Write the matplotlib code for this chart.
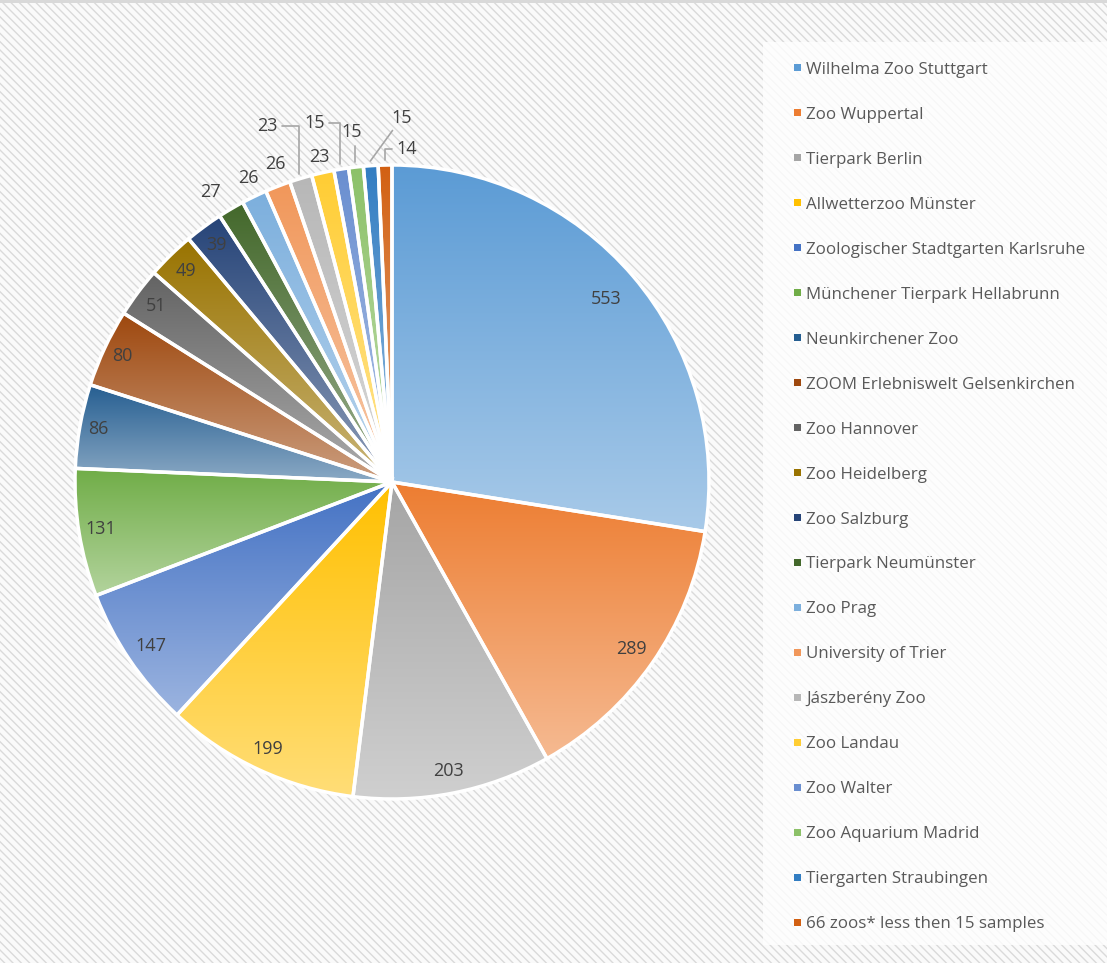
import numpy as np
import matplotlib
matplotlib.use("Agg")
import matplotlib.pyplot as plt
from matplotlib.patches import Rectangle
from matplotlib.colors import to_rgb

labels = ["Wilhelma Zoo Stuttgart", "Zoo Wuppertal", "Tierpark Berlin",
          "Allwetterzoo Münster", "Zoologischer Stadtgarten Karlsruhe",
          "Münchener Tierpark Hellabrunn", "Neunkirchener Zoo",
          "ZOOM Erlebniswelt Gelsenkirchen", "Zoo Hannover", "Zoo Heidelberg",
          "Zoo Salzburg", "Tierpark Neumünster", "Zoo Prag", "University of Trier",
          "Jászberény Zoo", "Zoo Landau", "Zoo Walter", "Zoo Aquarium Madrid",
          "Tiergarten Straubingen", "66 zoos* less then 15 samples"]
values = [553, 289, 203, 199, 147, 131, 86, 80, 51, 49, 39, 27, 26, 26, 23, 23,
          15, 15, 15, 14]
colors = ["#5B9BD5", "#ED7D31", "#A5A5A5", "#FFC000", "#4472C4", "#70AD47",
          "#255E91", "#9E480E", "#636363", "#997300", "#264478", "#43682B",
          "#7CAFDD", "#F1975A", "#B7B7B7", "#FFCD33", "#698ED0", "#8CC168",
          "#327DC2", "#D26012"]

# label placement styling: (radius factor, angle offset deg, leader style)
label_style = [(0.89, 0, None), (0.92, 0, None), (0.93, 0, None), (0.93, 0, None),
               (0.92, 0, None), (0.93, 0, None), (0.94, 0, None), (0.94, 0, None),
               (0.93, 0, None), (0.93, 0, None), (0.93, 0, None),
               (1.08, 1.5, None), (1.06, -0.4, None), (1.07, -1.0, None),
               (1.19, 2.5, "angle"), (1.05, 0, None), (1.16, 3.0, "angle"),
               (1.11, 0, "angle"), (1.15, -5.4, "line"), (1.05, -3.8, "angle")]

W, H, DPI = 1107, 963, 100
fig = plt.figure(figsize=(W / DPI, H / DPI), dpi=DPI)
fig.patch.set_facecolor("white")

# hatched background
plt.rcParams["hatch.linewidth"] = 1.0
bg = Rectangle((0, 0), 1, 1, transform=fig.transFigure, facecolor="#fafafa",
               edgecolor="#dadada", hatch="\\\\\\\\", linewidth=0, zorder=-10)
fig.patches.append(bg)
fig.patches.append(Rectangle((0, 1 - 3 / H), 1, 3 / H, transform=fig.transFigure,
                             facecolor="#d9d9d9", linewidth=0, zorder=-9))

# legend box
lx0, ly0, lx1, ly1 = 763, 42, W, 945
fig.patches.append(Rectangle((lx0 / W, 1 - ly1 / H), (lx1 - lx0) / W, (ly1 - ly0) / H,
                             transform=fig.transFigure, facecolor="white",
                             alpha=0.8, linewidth=0, zorder=-8))

cx, cy, R = 392, 482, 317
ax = fig.add_axes([0, 0, 1, 1])
ax.set_zorder(5)
ax.set_axis_off()
ax.patch.set_alpha(0)
xlim = (-cx / R, (W - cx) / R)
ylim = ((cy - H) / R, cy / R)

wedges, _ = ax.pie(values, startangle=90, counterclock=False, radius=1.0,
                   wedgeprops=dict(linewidth=2.5, edgecolor="white"))

for w, c in zip(wedges, colors):
    base = np.array(to_rgb(c))
    light = base + (1 - base) * 0.47
    t = np.linspace(0, 1, 256)[:, None]
    grad = (base[None, :] * (1 - t) + light[None, :] * t)[:, None, :]
    ext = w.get_path().get_extents()
    im = ax.imshow(grad, extent=[ext.x0, ext.x1, ext.y0, ext.y1], origin="upper",
                   aspect="auto", zorder=1, interpolation="bilinear")
    im.set_clip_path(w)
    w.set_facecolor("none")
    w.set_zorder(2)

ax.set_xlim(*xlim)
ax.set_ylim(*ylim)
ax.set_aspect("auto")

total = sum(values)
start = 90.0
for i, (v, w) in enumerate(zip(values, wedges)):
    span = 360.0 * v / total
    mid = start - span / 2
    start -= span
    rf, doff, leader = label_style[i]
    a = np.deg2rad(mid + doff)
    tx, ty = rf * np.cos(a), rf * np.sin(a)
    txt_kw = dict(fontsize=13, color="#404040", ha="center", va="center",
                  family=["Open Sans", "DejaVu Sans"], zorder=5)
    if leader is None:
        ax.text(tx, ty, str(v), **txt_kw)
    else:
        am = np.deg2rad(mid)
        ex, ey = 1.015 * np.cos(am), 1.015 * np.sin(am)
        cs = "angle,angleA=0,angleB=90,rad=0" if leader == "angle" else "arc3"
        ax.annotate(str(v), xy=(ex, ey), xytext=(tx, ty),
                    arrowprops=dict(arrowstyle="-", color="#a6a6a6", lw=1.2,
                                    connectionstyle=cs, shrinkA=1, shrinkB=0),
                    **txt_kw)

for i, (lab, c) in enumerate(zip(labels, colors)):
    yy = 68 + 44.95 * i
    fig.patches.append(Rectangle(((797 - 3.5) / W, 1 - (yy + 3.5) / H), 7 / W, 7 / H,
                                 transform=fig.transFigure, facecolor=c,
                                 linewidth=0, zorder=3))
    fig.text(806 / W, 1 - (yy + 2) / H, lab, fontsize=12.2, color="#595959", ha="left",
             va="center", family=["Open Sans", "DejaVu Sans"], zorder=4)

fig.savefig("out.png", dpi=DPI, facecolor=fig.get_facecolor())
